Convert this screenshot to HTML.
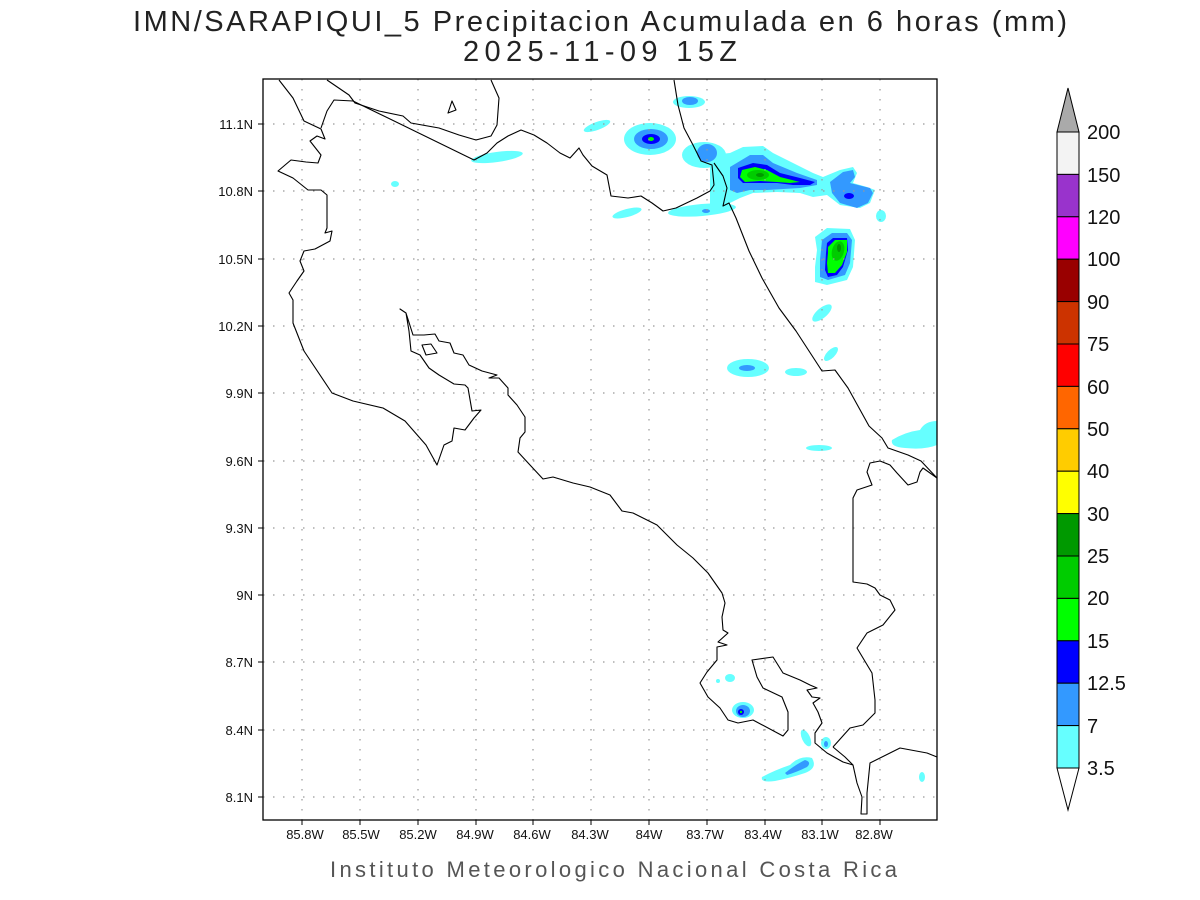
<!DOCTYPE html>
<html><head><meta charset="utf-8"><style>
body{margin:0;background:#fff;}
svg{display:block;}
text{font-family:"Liberation Sans",sans-serif;}
</style></head><body>
<svg width="1200" height="900" viewBox="0 0 1200 900" xmlns="http://www.w3.org/2000/svg">
<rect width="1200" height="900" fill="#fff"/>
<text x="133" y="31" font-size="29" textLength="934" lengthAdjust="spacing" fill="#222">IMN/SARAPIQUI_5 Precipitacion Acumulada en 6 horas (mm)</text>
<text x="463" y="61" font-size="29" textLength="274" lengthAdjust="spacing" fill="#222">2025-11-09 15Z</text>

<g>
<g fill="#66ffff">
<ellipse cx="650" cy="139" rx="26" ry="16"/>
<ellipse cx="689" cy="102" rx="16" ry="6"/>
<ellipse cx="597" cy="126" rx="14" ry="4" transform="rotate(-20 597 126)"/>
<ellipse cx="497" cy="157" rx="26" ry="5" transform="rotate(-8 497 157)"/>
<ellipse cx="395" cy="184" rx="4" ry="3"/>
<ellipse cx="704" cy="155" rx="22" ry="13"/>
<polygon points="710,155 730,153 743,147 763,146 773,153 793,163 813,173 823,177 840,170 853,167 857,173 853,183 867,187 875,190 870,203 860,208 840,205 827,195 813,197 800,193 777,192 753,193 740,198 730,203 720,207 710,205"/>
<ellipse cx="881" cy="216" rx="5" ry="6"/>
<polygon points="815,237 827,228 850,229 855,240 853,267 847,280 827,285 815,282 815,267 817,250"/>
<ellipse cx="822" cy="313" rx="12" ry="5" transform="rotate(-40 822 313)"/>
<ellipse cx="831" cy="354" rx="9" ry="4" transform="rotate(-45 831 354)"/>
<ellipse cx="748" cy="368" rx="21" ry="9"/>
<ellipse cx="796" cy="372" rx="11" ry="4"/>
<ellipse cx="627" cy="213" rx="15" ry="4" transform="rotate(-15 627 213)"/>
<ellipse cx="702" cy="210" rx="34" ry="6" transform="rotate(-5 702 210)"/>
<path d="M892,440 Q905,432 920,430 Q925,421 937,421 L937,445 Q925,450 905,448 Q890,447 892,440Z"/>
<ellipse cx="819" cy="448" rx="13" ry="3"/>
<ellipse cx="743" cy="710" rx="11" ry="8"/>
<ellipse cx="730" cy="678" rx="5" ry="4"/>
<ellipse cx="718" cy="681" rx="2" ry="2"/>
<path d="M762,777 Q775,770 790,765 Q800,755 812,758 Q818,768 805,773 Q790,778 775,781 Q760,783 762,777Z"/>
<ellipse cx="806" cy="738" rx="4" ry="9" transform="rotate(-25 806 738)"/>
<ellipse cx="826" cy="743" rx="5" ry="6"/>
<ellipse cx="922" cy="777" rx="3" ry="5"/>
</g>
<g fill="#3399ff">
<ellipse cx="651" cy="139" rx="17" ry="10"/>
<ellipse cx="690" cy="101" rx="8" ry="4"/>
<ellipse cx="707" cy="153" rx="10" ry="9"/>
<polygon points="730,167 750,155 763,155 773,163 797,173 817,180 817,185 800,188 767,190 750,190 737,193 730,190"/>
<polygon points="830,182 843,172 853,170 855,177 850,183 870,188 873,193 868,203 857,208 840,203 832,193"/>
<polygon points="822,240 832,233 847,233 852,240 850,263 845,275 828,280 820,277 820,260"/>
<ellipse cx="747" cy="368" rx="8" ry="3"/>
<ellipse cx="706" cy="211" rx="4" ry="2"/>
<ellipse cx="743" cy="711" rx="7" ry="6"/>
<path d="M785,773 Q795,765 805,760 Q812,762 807,767 Q797,772 787,775Z"/>
<ellipse cx="826" cy="744" rx="2" ry="3"/>
</g>
<g fill="#0000ff">
<ellipse cx="651" cy="139" rx="9" ry="5"/>
<polygon points="738,168 753,163 767,165 780,173 800,178 815,182 810,185 793,185 777,183 760,183 743,183 738,178"/>
<ellipse cx="849" cy="196" rx="5" ry="3"/>
<polygon points="827,243 833,238 847,238 848,250 843,267 837,275 828,277 825,270 826,253"/>
<ellipse cx="741" cy="712" rx="3" ry="3"/>
</g>
<g fill="#00ff00">
<ellipse cx="651" cy="139" rx="3" ry="2"/>
<polygon points="742,170 755,167 767,170 780,177 800,182 790,183 777,182 760,181 745,182 740,177"/>
<polygon points="828,247 835,240 847,240 847,252 842,265 835,273 828,273 827,263 828,253"/>
<circle cx="741" cy="712" r="1.2"/>
</g>
<g fill="#00cc00">
<ellipse cx="758" cy="175" rx="11" ry="5"/>
<ellipse cx="838" cy="251" rx="6" ry="10" transform="rotate(15 838 251)"/>
</g>
<g fill="#009900">
<ellipse cx="760" cy="175" rx="4" ry="2"/>
<ellipse cx="839" cy="248" rx="2" ry="4"/>
</g>
</g>

<g stroke="#999" stroke-width="1.2" stroke-dasharray="1.5,8.5" fill="none">
<path d="M302,79V820M360,79V820M418,79V820M476,79V820M533,79V820M591,79V820M649,79V820M707,79V820M765,79V820M822,79V820M880,79V820"/>
<path d="M263,124H937M263,191H937M263,259H937M263,326H937M263,393H937M263,461H937M263,528H937M263,595H937M263,662H937M263,730H937M263,797H937"/>
</g>

<g stroke="#000" stroke-width="1.1" fill="none" stroke-linejoin="round">
<polyline points="279,80 293,98 304,121 321,129 325,139 317,136 310,141 321,155 318,163 306,162 291,160 278,171 293,178 308,190 321,190 327,195 327,228 325,233 332,231 330,241 315,249 304,251 300,261 304,271 297,281 289,293 293,300 293,323 304,351 332,393 353,401 383,408 405,421 426,445 437,465 444,445 452,441 454,428 465,430 474,418 481,410 472,411 468,388 465,385 454,384 439,375 429,368 420,355 411,351 409,331 406,313 400,309 406,313 413,335 424,335 435,334 439,341 450,343 454,353 463,355 469,365 482,371 497,375 489,378 499,378 508,388 508,395 517,405 525,417 525,432 520,438 518,452 530,465 543,479 553,477 573,483 590,487 610,495 622,511 633,513 657,525 677,545 693,558 708,573 722,593 725,603 722,617 723,630 728,633 718,642 727,645 717,647 717,660 707,672 700,683 708,697 720,708 728,720 738,723 753,720 783,736 788,730 788,712 782,697 763,688 757,677 752,660 773,657 783,673 800,680 810,685 817,688 807,690 812,697 820,698 813,703 818,712 822,723 815,733 815,743 827,753 843,762 853,765 857,783 862,797 861,814 867,814 867,793 870,763 900,748 927,753 937,757"/>
<polyline points="833,747 850,728 863,725 875,713 875,700 872,673 860,653 857,648 867,633 883,625 895,610 890,600 880,595 875,588 867,584 853,582 853,498 857,490 872,485 867,472 870,463 880,461 890,465 897,473 908,485 917,482 920,472 923,468 937,478"/>
<polyline points="833,747 845,757 853,765"/>
<polyline points="937,478 921,461 908,455 888,448 882,438 869,426 848,388 835,370 822,371 796,331 779,308 762,278 749,251 736,218 729,203 723,206 727,188 723,176 714,163"/>
<polyline points="674,80 678,105 684,128 693,145 701,161 712,165 714,185 710,191 697,198 676,208 663,211 652,203 641,196 628,198 611,196 607,175 592,166 583,155 579,148 570,158 560,153 547,143 534,135 521,130 508,136 497,143 487,153 474,160 388,118 353,101 334,100 327,111 321,128"/>
<polyline points="327,80 349,95 355,103 379,111 403,116 411,123 439,128 459,135 476,140 491,136 497,125 499,98 491,80"/>
<polygon points="448,113 452,101 456,110"/>
<polygon points="422,345 431,344 437,353 426,355"/>
</g>

<rect x="263" y="79" width="674" height="741" fill="none" stroke="#000" stroke-width="1.3"/>

<g stroke="#000" stroke-width="1">
<path d="M258,124H263M258,191H263M258,259H263M258,326H263M258,393H263M258,461H263M258,528H263M258,595H263M258,662H263M258,730H263M258,797H263"/>
<path d="M302,820V825M360,820V825M418,820V825M476,820V825M533,820V825M591,820V825M649,820V825M707,820V825M765,820V825M822,820V825M880,820V825"/>
</g>
<g font-size="13" fill="#111" text-anchor="end">
<text x="253" y="129">11.1N</text><text x="253" y="196">10.8N</text><text x="253" y="264">10.5N</text><text x="253" y="331">10.2N</text><text x="253" y="398">9.9N</text><text x="253" y="466">9.6N</text><text x="253" y="533">9.3N</text><text x="253" y="600">9N</text><text x="253" y="667">8.7N</text><text x="253" y="735">8.4N</text><text x="253" y="802">8.1N</text>
</g>
<g font-size="13" fill="#111" text-anchor="middle">
<text x="305" y="839">85.8W</text><text x="361" y="839">85.5W</text><text x="418" y="839">85.2W</text><text x="475" y="839">84.9W</text><text x="532" y="839">84.6W</text><text x="590" y="839">84.3W</text><text x="649" y="839">84W</text><text x="705" y="839">83.7W</text><text x="763" y="839">83.4W</text><text x="820" y="839">83.1W</text><text x="874" y="839">82.8W</text>
</g>
<text x="330" y="877" font-size="22" textLength="567" lengthAdjust="spacing" fill="#555">Instituto Meteorologico Nacional Costa Rica</text>

<g stroke="#000" stroke-width="1">
<polygon points="1057,132 1068,88 1079,132" fill="#aaaaaa"/>
<rect x="1057" y="132" width="22" height="42.4" fill="#f3f3f3"/>
<rect x="1057" y="174.4" width="22" height="42.4" fill="#9933cc"/>
<rect x="1057" y="216.8" width="22" height="42.4" fill="#ff00ff"/>
<rect x="1057" y="259.2" width="22" height="42.4" fill="#990000"/>
<rect x="1057" y="301.6" width="22" height="42.4" fill="#cc3300"/>
<rect x="1057" y="344" width="22" height="42.4" fill="#ff0000"/>
<rect x="1057" y="386.4" width="22" height="42.4" fill="#ff6600"/>
<rect x="1057" y="428.8" width="22" height="42.4" fill="#ffcc00"/>
<rect x="1057" y="471.2" width="22" height="42.4" fill="#ffff00"/>
<rect x="1057" y="513.6" width="22" height="42.4" fill="#009900"/>
<rect x="1057" y="556" width="22" height="42.4" fill="#00cc00"/>
<rect x="1057" y="598.4" width="22" height="42.4" fill="#00ff00"/>
<rect x="1057" y="640.8" width="22" height="42.4" fill="#0000ff"/>
<rect x="1057" y="683.2" width="22" height="42.4" fill="#3399ff"/>
<rect x="1057" y="725.6" width="22" height="42.4" fill="#66ffff"/>
<polygon points="1057,768 1068,810 1079,768" fill="#fff"/>
</g>
<g font-size="20" fill="#111">
<text x="1087" y="139">200</text><text x="1087" y="182">150</text><text x="1087" y="224">120</text><text x="1087" y="266">100</text><text x="1087" y="309">90</text><text x="1087" y="351">75</text><text x="1087" y="394">60</text><text x="1087" y="436">50</text><text x="1087" y="478">40</text><text x="1087" y="521">30</text><text x="1087" y="563">25</text><text x="1087" y="605">20</text><text x="1087" y="648">15</text><text x="1087" y="690">12.5</text><text x="1087" y="733">7</text><text x="1087" y="775">3.5</text>
</g>
</svg>
</body></html>
